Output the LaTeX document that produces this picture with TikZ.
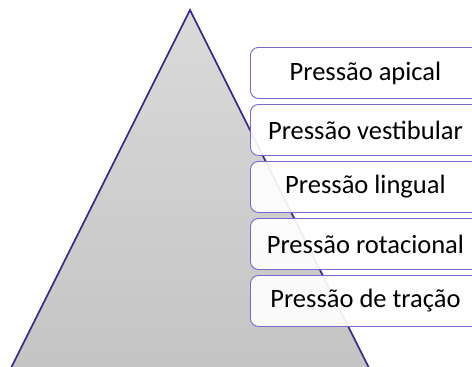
\documentclass[tikz,border=0pt]{standalone}
\usepackage{fontspec}
\setmainfont{Carlito}
\definecolor{edgeblue}{RGB}{52,42,135}
\definecolor{boxline}{RGB}{120,104,200}
\definecolor{gtop}{RGB}{218,218,218}
\definecolor{gbot}{RGB}{196,196,196}
\begin{document}
\begin{tikzpicture}[x=1pt,y=-1pt,
  level/.style={draw=boxline, line width=0.9pt, fill=white, fill opacity=0.92, text opacity=1,
    rounded corners=8pt, minimum width=230pt, minimum height=51pt, anchor=north west,
    inner sep=0pt, font=\fontsize{26.5}{30}\selectfont, text=black}]
\useasboundingbox (0,0) rectangle (472,367);
\clip (0,0) rectangle (472,367);
\coordinate (apex) at (190,10);
\coordinate (bl) at (10,370);
\coordinate (br) at (370,370);
\shade[top color=gtop, bottom color=gbot] (apex) -- (br) -- (bl) -- cycle;
\draw[edgeblue, line width=1.6pt, line join=miter] (bl) -- (apex) -- (br);
\node[level] (p1) at (250,47)  {Pressão apical};
\node[level] (p2) at (250,104) {Pressão vestibular};
\node[level] (p3) at (250,161) {Pressão lingual};
\node[level] (p4) at (250,218) {Pressão rotacional};
\node[level] (p5) at (250,275) {Pressão de tração};
\end{tikzpicture}
\end{document}
